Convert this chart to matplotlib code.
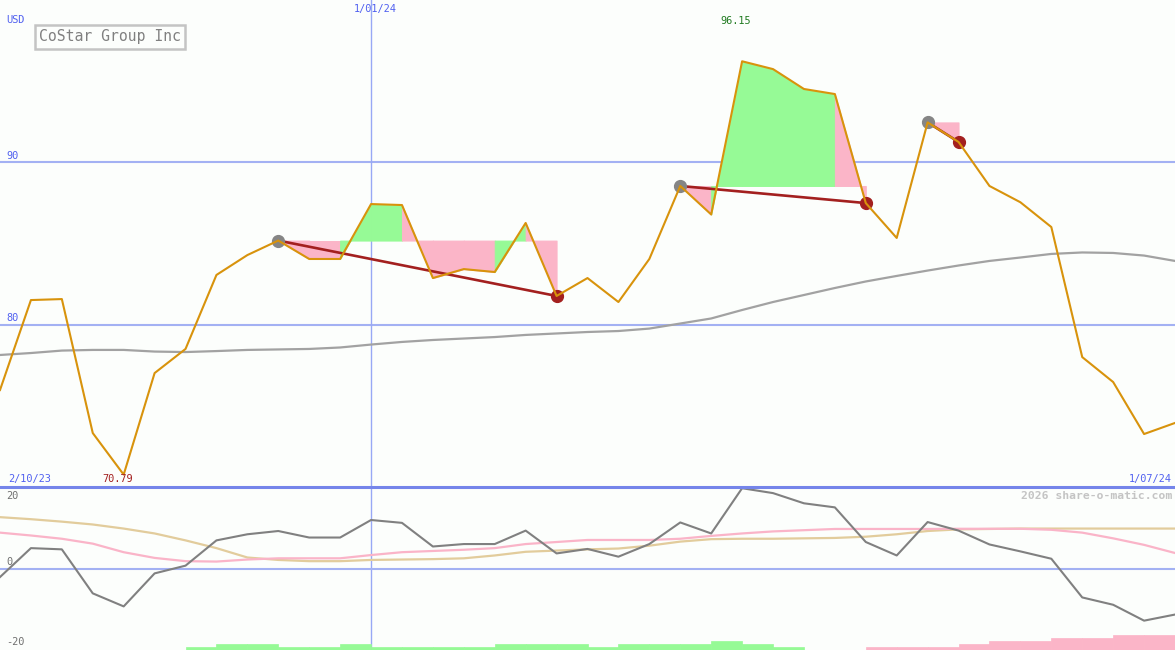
import numpy as np
import matplotlib
matplotlib.use("Agg")
import matplotlib.pyplot as plt

# ==================== DATA ====================
# weekly closes, 2/10/23 .. 1/07/24 (USD)
price = [75.98, 81.50, 81.56, 73.34, 70.79, 77.02, 78.50, 83.04, 84.26, 85.15,
         84.02, 84.02, 87.39, 87.33, 82.85, 83.40, 83.22, 86.23, 81.75, 82.85,
         81.38, 84.02, 88.50, 86.75, 96.15, 95.67, 94.45, 94.14, 87.45, 85.31,
         92.40, 91.20, 88.50, 87.50, 85.98, 78.00, 76.47, 73.28, 73.96]
# long moving average (grey)
ma_long = [78.13, 78.25, 78.40, 78.44, 78.44, 78.34, 78.31, 78.37, 78.44, 78.47,
           78.50, 78.59, 78.77, 78.93, 79.05, 79.14, 79.23, 79.36, 79.45, 79.54,
           79.60, 79.75, 80.06, 80.37, 80.89, 81.38, 81.81, 82.24, 82.64, 82.98,
           83.31, 83.62, 83.90, 84.11, 84.33, 84.42, 84.39, 84.23, 83.90]
# oscillator panel
momentum = [-2.1, 5.0, 4.7, -6.1, -9.3, -1.2, 0.7, 6.9, 8.4, 9.2,
            7.6, 7.6, 11.9, 11.2, 5.4, 6.0, 6.0, 9.3, 3.7, 4.8,
            2.9, 6.0, 11.3, 8.6, 19.7, 18.5, 16.0, 15.0, 6.5, 3.2,
            11.4, 9.3, 5.9, 4.2, 2.4, -7.1, -8.9, -12.8, -11.3]
mom_fast = [8.8, 8.1, 7.3, 6.1, 4.0, 2.6, 1.8, 1.7, 2.2, 2.5,
            2.5, 2.5, 3.3, 4.0, 4.3, 4.6, 5.0, 6.0, 6.5, 7.0,
            7.0, 7.0, 7.3, 8.0, 8.6, 9.1, 9.4, 9.7, 9.7, 9.7,
            9.7, 9.75, 9.75, 9.75, 9.5, 8.8, 7.4, 5.8, 3.8]
mom_slow = [12.6, 12.1, 11.5, 10.8, 9.8, 8.6, 6.9, 5.0, 2.7, 2.1,
            1.8, 1.8, 2.1, 2.2, 2.3, 2.5, 3.2, 4.1, 4.4, 4.7,
            4.9, 5.6, 6.6, 7.2, 7.3, 7.3, 7.4, 7.5, 7.8, 8.4,
            9.2, 9.6, 9.7, 9.8, 9.8, 9.8, 9.8, 9.8, 9.8]
# histogram steps per week (one bar per interval)
hist = [0, 0, 0, 0, 0, 0, 1, 2, 2, 1, 1, 2, 1, 1, 1, 1, 2, 2, 2, 1,
        2, 2, 2, 3, 2, 1, 0, 0, -1, -1, -1, -2, -3, -3, -4, -4, -5, -5]
# (start, end) week index of each trend segment
trends = [(9, 18), (22, 28), (30, 31)]
jan_idx = 12
title = "CoStar Group Inc"
# ==============================================

W, H = 1175, 650
BG = "#fcfefc"
BLUE = "#5060f0"
GRID = "#a3b1f3"
GREEN = "#96fa96"
PINK = "#fbb5c8"
ORANGE = "#d8930c"
DKRED = "#a3201f"

x = np.arange(len(price))
fig = plt.figure(figsize=(W / 100, H / 100), dpi=100, facecolor=BG)

split = 163 / H
ax = fig.add_axes([0, split, 1, 1 - split])
ax2 = fig.add_axes([0, 0, 1, split])
for a in (ax, ax2):
    a.set_facecolor(BG)
    a.set_xlim(0, len(price) - 1)
    a.axis("off")
ax.set_ylim(70.03, 99.91)
ax2.set_ylim(-20, 20)


def px(xp, yp):
    return xp / W, 1 - yp / H


mono = "DejaVu Sans Mono"

# ---------- price panel ----------
for lvl in (80, 90):
    ax.axhline(lvl, color=GRID, lw=1.5, zorder=1)
ax.axvline(jan_idx, color="#98a8f5", lw=1, zorder=1)
ax2.axvline(jan_idx, color="#98a8f5", lw=1, zorder=1)

for s, e in trends:
    level = price[s]
    for i in range(s, e):
        c = GREEN if price[i + 1] > level else PINK
        ax.fill_between(x[i:i + 2], level, price[i:i + 2], facecolor=c,
                        edgecolor=c, lw=0.7, zorder=2)

ax.plot(x, ma_long, color="#a2a2a2", lw=1.6, zorder=3)

for s, e in trends:
    ax.plot([s, e], [price[s], price[e]], color=DKRED, lw=1.9, zorder=4)
    ax.plot(s, price[s], "o", color="#858585", ms=8.5, zorder=5)
    ax.plot(e, price[e], "o", color=DKRED, ms=8.5, zorder=5)

ax.plot(x, price, color=ORANGE, lw=1.5, zorder=6)

# ---------- oscillator panel ----------
ax2.axhline(0, color=GRID, lw=1.5, zorder=1)
for i, h in enumerate(hist):
    if h == 0:
        continue
    c = GREEN if h > 0 else PINK
    ax2.bar(i, abs(h) * 0.74, bottom=-20, width=1, align="edge",
            color=c, edgecolor=c, lw=0.5, zorder=2)
ax2.plot(x, mom_slow, color="#e2cc9c", lw=1.6, zorder=3)
ax2.plot(x, mom_fast, color="#fab4c8", lw=1.6, zorder=3)
ax2.plot(x, momentum, color="#808080", lw=1.5, zorder=4)

# divider between panels
fig.add_artist(plt.Line2D([0, 1], [split, split], color="#7585ea", lw=2.2))

# ---------- labels ----------
fs = 7.4
fig.text(*px(6, 20), "USD", color=BLUE, fontsize=fs, family=mono, va="center")
fig.text(*px(6, 156), "90", color=BLUE, fontsize=fs, family=mono, va="center")
fig.text(*px(6, 318), "80", color=BLUE, fontsize=fs, family=mono, va="center")
fig.text(*px(375, 9), "1/01/24", color=BLUE, fontsize=fs, family=mono,
         va="center", ha="center")
fig.text(*px(8, 479), "2/10/23", color=BLUE, fontsize=fs, family=mono, va="center")
fig.text(*px(1172, 479), "1/07/24", color=BLUE, fontsize=fs, family=mono,
         va="center", ha="right")
imin = int(np.argmin(price))
imax = int(np.argmax(price))
fig.text(*px(imin * W / (len(price) - 1) - 6, 479), f"{price[imin]:.2f}",
         color=DKRED, fontsize=fs, family=mono, va="center", ha="center")
fig.text(*px(imax * W / (len(price) - 1) - 6, 21), f"{price[imax]:.2f}",
         color="#207a20", fontsize=fs, family=mono, va="center", ha="center")
fig.text(*px(1172, 496), "2026 share-o-matic.com", color="#c4c4c4",
         fontsize=8.2, family=mono, weight="bold", va="center", ha="right")
fig.text(*px(6, 496), "20", color="#707070", fontsize=fs, family=mono, va="center")
fig.text(*px(6, 562), "0", color="#707070", fontsize=fs, family=mono, va="center")
fig.text(*px(6, 642), "-20", color="#707070", fontsize=fs, family=mono, va="center")

fig.text(*px(110, 37), title, color="#808080", fontsize=10.6, family=mono,
         va="center", ha="center",
         bbox=dict(boxstyle="square,pad=0.3", fc=BG, ec="#c4c4c4", lw=1.8))

fig.savefig("out.png", dpi=100, facecolor=BG)
